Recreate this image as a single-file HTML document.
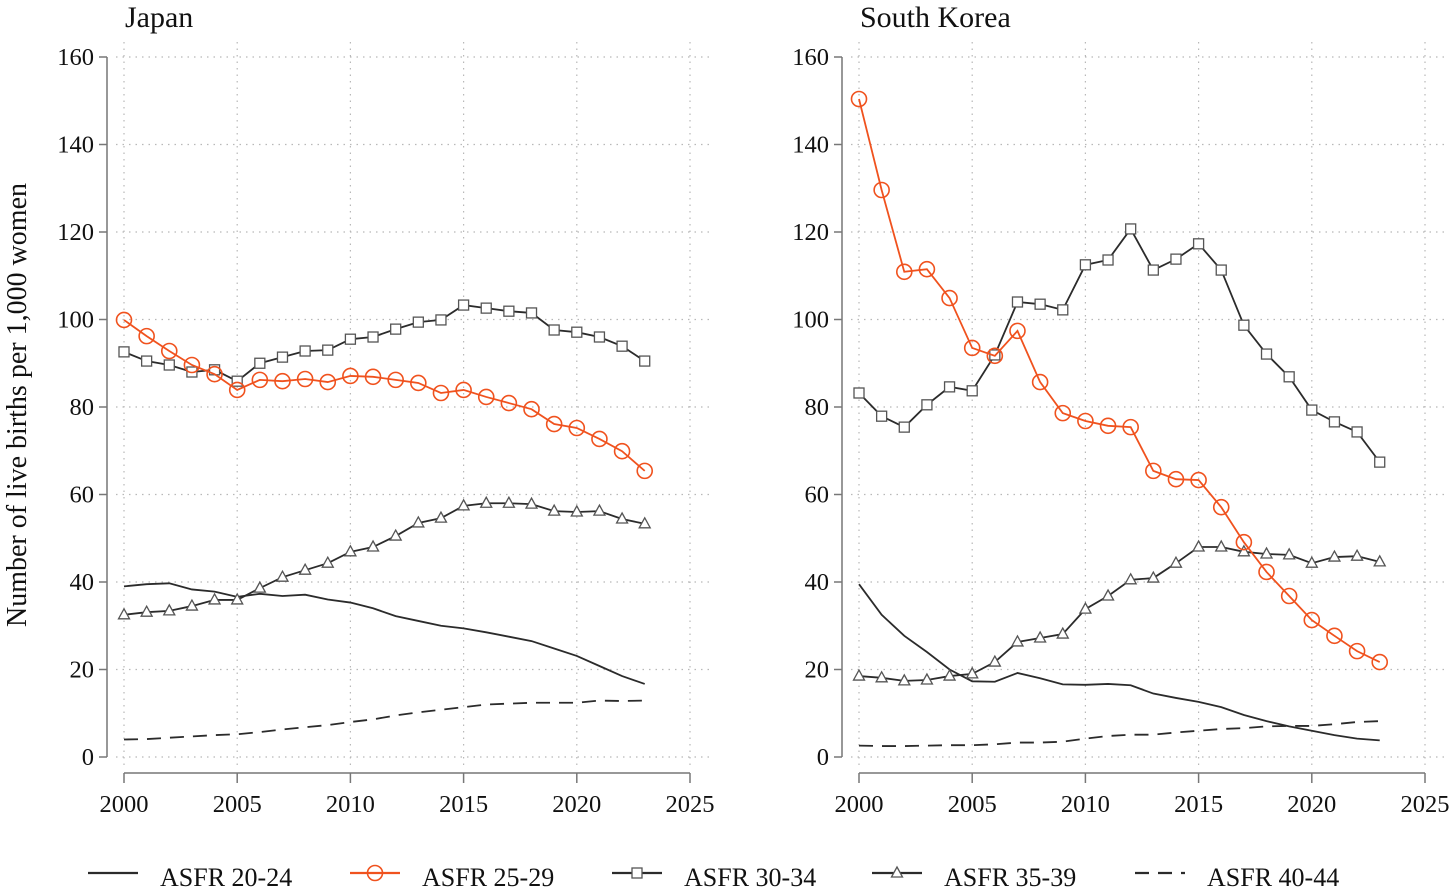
<!DOCTYPE html>
<html><head><meta charset="utf-8"><style>
body{margin:0;background:#fff;}
svg{display:block;font-family:"Liberation Serif",serif;}
</style></head><body>
<svg id="chart" width="1456" height="894"></svg>
<script>
const years=[2000,2001,2002,2003,2004,2005,2006,2007,2008,2009,2010,2011,2012,2013,2014,2015,2016,2017,2018,2019,2020,2021,2022,2023];
const yTicks=[0,20,40,60,80,100,120,140,160];
const xTicks=[2000,2005,2010,2015,2020,2025];
const jp2024=[39,39.5,39.7,38.3,37.8,36.6,37.3,36.8,37.1,36,35.3,34,32.2,31.1,30,29.4,28.5,27.5,26.5,24.8,23.1,20.8,18.5,16.7];
const jp2529=[99.9,96.2,92.8,89.6,87.5,83.9,86.2,85.9,86.4,85.7,87.1,86.9,86.2,85.5,83.2,83.9,82.3,80.9,79.5,76.1,75.2,72.7,69.9,65.4];
const jp3034=[92.6,90.5,89.6,88,88.5,85.9,90,91.4,92.8,93,95.5,96,97.8,99.4,99.9,103.3,102.6,101.9,101.5,97.6,97.1,96,93.9,90.5];
const jp3539=[32.5,33.1,33.4,34.5,35.9,35.9,38.6,41.1,42.7,44.3,46.9,48,50.5,53.5,54.6,57.4,58,58,57.8,56.2,56,56.2,54.4,53.3];
const jp4044=[4,4.1,4.4,4.7,5,5.2,5.7,6.3,6.8,7.3,8,8.6,9.5,10.2,10.8,11.4,12,12.2,12.4,12.4,12.4,12.9,12.8,12.9];
const kr2024=[39.5,32.5,27.7,24,20,17.3,17.2,19.2,18,16.6,16.5,16.7,16.4,14.5,13.5,12.6,11.4,9.6,8.2,7,6,5,4.2,3.8];
const kr2529=[150.4,129.6,110.9,111.5,104.9,93.5,91.7,97.4,85.7,78.6,76.8,75.7,75.4,65.4,63.5,63.3,57.1,49.1,42.3,36.8,31.3,27.7,24.2,21.7];
const kr3034=[83.2,77.9,75.4,80.5,84.6,83.7,91.9,104,103.5,102.2,112.5,113.6,120.7,111.3,113.8,117.3,111.3,98.7,92.1,86.9,79.3,76.6,74.3,67.4];
const kr3539=[18.5,18.1,17.4,17.6,18.5,19,21.7,26.3,27.2,28.1,33.8,36.8,40.5,40.9,44.3,48,48,46.9,46.4,46.2,44.3,45.7,45.9,44.6];
const kr4044=[2.6,2.5,2.5,2.6,2.7,2.7,2.9,3.3,3.3,3.5,4.2,4.8,5.1,5.1,5.6,6,6.4,6.6,7,7.1,7.1,7.5,8,8.2];
const panelTitles=["Japan","South Korea"];
const legendLabels=["ASFR 20-24","ASFR 25-29","ASFR 30-34","ASFR 35-39","ASFR 40-44"];

const NS="http://www.w3.org/2000/svg";
const svg=document.getElementById('chart');
const ORANGE="#f0521e", DARK="#2b2b2b", GRID="#b8b8b8", AX="#777";
function mk(tag,attrs,parent){const e=document.createElementNS(NS,tag);for(const k in attrs)e.setAttribute(k,attrs[k]);(parent||svg).appendChild(e);return e;}
function yS(v){return 757-v*(700/160);}

function marker(g,kind,x,y){
  let m;
  if(kind==='circle'){m=mk('circle',{cx:x,cy:y,r:7.5,fill:'none',stroke:ORANGE,'stroke-width':1.6},g);}
  else if(kind==='square'){m=mk('rect',{x:x-5,y:y-5,width:10,height:10,fill:'#fff',stroke:'#555','stroke-width':1.3},g);}
  else if(kind==='tri'){m=mk('polygon',{points:`${x},${y-6} ${x+5.5},${y+4} ${x-5.5},${y+4}`,fill:'#fff',stroke:'#555','stroke-width':1.3},g);}
  return m;
}

function panel(x0,title,series){
  const xS=yr=>x0+(yr-2000)*(566/25);
  const g=mk('g',{});
  
  
  yTicks.forEach(v=>{const l=mk('line',{x1:x0-8,x2:x0+588,y1:yS(v),y2:yS(v),stroke:GRID,'stroke-width':1.2,'stroke-dasharray':'1.5 5'},g);
    });
  xTicks.forEach(t=>{const l=mk('line',{x1:xS(t),x2:xS(t),y1:42,y2:768,stroke:GRID,'stroke-width':1.2,'stroke-dasharray':'1.5 5'},g);
    });
  const ya=mk('line',{x1:x0-17,x2:x0-17,y1:yS(160),y2:yS(0),stroke:AX,'stroke-width':1.5},g);
  
  yTicks.forEach(v=>{mk('line',{x1:x0-25,x2:x0-17,y1:yS(v),y2:yS(v),stroke:AX,'stroke-width':1.5},g);
    const t=mk('text',{x:x0-30,y:yS(v)+8,'text-anchor':'end','font-size':24.5,fill:'#111'},g);t.textContent=v;
    });
  const xa=mk('line',{x1:xS(2000),x2:xS(2025),y1:773,y2:773,stroke:AX,'stroke-width':1.5},g);
  
  xTicks.forEach(t=>{mk('line',{x1:xS(t),x2:xS(t),y1:773,y2:783,stroke:AX,'stroke-width':1.5},g);
    const tx=mk('text',{x:xS(t),y:812,'text-anchor':'middle','font-size':24.5,fill:'#111'},g);tx.textContent=t;
    });
  const tt=mk('text',{x:x0+1,y:27,'font-size':30,fill:'#111'},g);tt.textContent=title;
  
  series.forEach(s=>{
    const pts=years.map((yr,i)=>xS(yr)+','+yS(s.vals[i])).join(' ');
    const pl=mk('polyline',{points:pts,fill:'none',stroke:s.color,'stroke-width':1.8,'stroke-dasharray':s.dash||'none'},g);
    
    if(s.marker) years.forEach((yr,i)=>{const m=marker(g,s.marker,xS(yr),yS(s.vals[i]));
      });
  });
}
panel(124,panelTitles[0],[
  {name:'asfr-20-24',vals:jp2024,color:DARK},
  {name:'asfr-40-44',vals:jp4044,color:DARK,dash:'14 9'},
  {name:'asfr-35-39',vals:jp3539,color:DARK,marker:'tri'},
  {name:'asfr-30-34',vals:jp3034,color:DARK,marker:'square'},
  {name:'asfr-25-29',vals:jp2529,color:ORANGE,marker:'circle'}]);
panel(859,panelTitles[1],[
  {name:'asfr-20-24',vals:kr2024,color:DARK},
  {name:'asfr-40-44',vals:kr4044,color:DARK,dash:'14 9'},
  {name:'asfr-35-39',vals:kr3539,color:DARK,marker:'tri'},
  {name:'asfr-30-34',vals:kr3034,color:DARK,marker:'square'},
  {name:'asfr-25-29',vals:kr2529,color:ORANGE,marker:'circle'}]);
const yt=mk('text',{x:0,y:0,transform:'translate(26,405) rotate(-90)','text-anchor':'middle','font-size':28,fill:'#111'});
yt.textContent='Number of live births per 1,000 women';


const lg=mk('g',{});


const legX=[88,350,612,872,1135];
const legStyle=[{c:DARK},{c:ORANGE,m:'circle'},{c:DARK,m:'square'},{c:DARK,m:'tri'},{c:DARK,d:'14 9'}];
legendLabels.forEach((lab,i)=>{
  const e=mk('g',{},lg);
  
  
  const s=legStyle[i];
  mk('line',{x1:legX[i],x2:legX[i]+50,y1:873,y2:873,stroke:s.c,'stroke-width':2.2,'stroke-dasharray':s.d||'none'},e);
  if(s.m) marker(e,s.m,legX[i]+25,873);
  const t=mk('text',{x:legX[i]+72,y:886,'font-size':26,fill:'#111'},e);t.textContent=lab;
});
</script>
</body></html>
